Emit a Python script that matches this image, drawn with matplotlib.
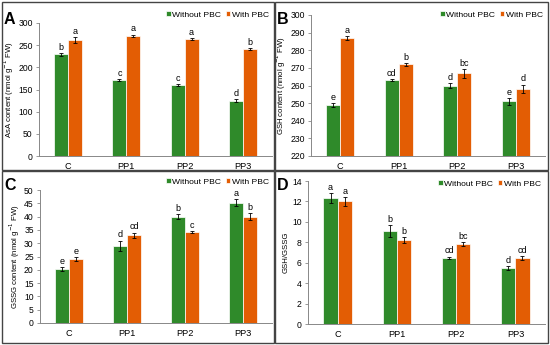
import matplotlib
matplotlib.use("Agg")
import matplotlib.pyplot as plt
from matplotlib.patches import Rectangle
import numpy as np

plt.rcParams['font.family'] = ['Liberation Sans', 'DejaVu Sans']

groups = ["C", "PP1", "PP2", "PP3"]

asa_wo = [229, 171, 161, 125]
asa_w = [262, 271, 264, 241]
asa_wo_err = [4, 2, 2, 3]
asa_w_err = [7, 3, 3, 3]
asa_wo_let = ["b", "c", "c", "d"]
asa_w_let = ["a", "a", "a", "b"]

gsh_wo = [249, 263, 260, 251]
gsh_w = [287, 272, 267, 258]
gsh_wo_err = [1, 0.7, 1.5, 2]
gsh_w_err = [1, 0.7, 2.5, 2.5]
gsh_wo_let = ["e", "cd", "d", "e"]
gsh_w_let = ["a", "b", "bc", "d"]

gssg_wo = [20.3, 29, 40, 45.3]
gssg_w = [24, 33, 34.2, 40]
gssg_wo_err = [0.7, 2, 0.8, 1.2]
gssg_w_err = [0.8, 1, 0.5, 1.3]
gssg_wo_let = ["e", "d", "b", "a"]
gssg_w_let = ["e", "cd", "c", "b"]

ratio_wo = [12.3, 9.1, 6.5, 5.45]
ratio_w = [12.0, 8.2, 7.8, 6.45]
ratio_wo_err = [0.5, 0.6, 0.1, 0.2]
ratio_w_err = [0.45, 0.3, 0.2, 0.2]
ratio_wo_let = ["a", "b", "cd", "d"]
ratio_w_let = ["a", "b", "bc", "cd"]

green = "#2f8a2a"
orange = "#e35d04"

W, H = 550, 345
fig = plt.figure(figsize=(5.5, 3.45), dpi=100)

def px(l, t, r, b):
    return [l / W, 1 - b / H, (r - l) / W, (b - t) / H]

# panel frames
for (l, t, r, b) in [(2, 2, 274, 170), (275, 2, 548, 170), (2, 171, 274, 343), (275, 171, 548, 343)]:
    fig.add_artist(Rectangle((l / W, 1 - b / H), (r - l) / W, (b - t) / H,
                             transform=fig.transFigure, fill=False, edgecolor="#444444", lw=1.0))

# tag, axes box, data..., ylim, step, ylabel, tag pos, legend anchor (pixels)
panels = [
    ("A", px(39, 23, 272, 156), asa_wo, asa_w, asa_wo_err, asa_w_err, asa_wo_let, asa_w_let,
     (0, 300), 50, "AsA content (nmol g$^{-1}$ FW)", (4, 12), (269, 15)),
    ("B", px(311, 15, 545, 156), gsh_wo, gsh_w, gsh_wo_err, gsh_w_err, gsh_wo_let, gsh_w_let,
     (220, 300), 10, "GSH content (nmol g$^{-1}$ FW)", (277, 12), (543, 15)),
    ("C", px(40, 190, 272, 323), gssg_wo, gssg_w, gssg_wo_err, gssg_w_err, gssg_wo_let, gssg_w_let,
     (0, 50), 5, "GSSG content (nmol g$^{-1}$ FW)", (4, 178), (269, 182)),
    ("D", px(308, 181, 545, 324), ratio_wo, ratio_w, ratio_wo_err, ratio_w_err, ratio_wo_let, ratio_w_let,
     (0, 14), 2, "GSH/GSSG", (277, 178), (541, 184)),
]

x = np.arange(len(groups))
bw = 0.24
ek = dict(ecolor="black", elinewidth=0.6, capsize=1.3, capthick=0.6)
for tag, rect, wo, w, woe, we, wol, wl, ylim, step, ylab, tpos, lpos in panels:
    ax = fig.add_axes(rect)
    ax.bar(x - bw / 2, wo, bw, color=green, edgecolor="white", lw=0.5, label="Without PBC",
           yerr=woe, error_kw=ek)
    ax.bar(x + bw / 2, w, bw, color=orange, edgecolor="white", lw=0.5, label="With PBC",
           yerr=we, error_kw=ek)
    off = (ylim[1] - ylim[0]) * 0.008
    for i in range(len(groups)):
        ax.text(x[i] - bw / 2, wo[i] + woe[i] + off, wol[i], ha="center", va="bottom", fontsize=6.5)
        ax.text(x[i] + bw / 2, w[i] + we[i] + off, wl[i], ha="center", va="bottom", fontsize=6.5)
    ax.set_xlim(-0.5, 3.5)
    ax.set_ylim(*ylim)
    ax.set_yticks(np.arange(ylim[0], ylim[1] + step / 2, step))
    ax.set_xticks(x)
    ax.set_xticklabels(groups)
    ax.tick_params(axis="x", length=0, labelsize=6.6, pad=4)
    ax.tick_params(axis="y", length=2.5, labelsize=6.2, color="#888888", width=0.6, pad=2)
    for s in ["top", "right"]:
        ax.spines[s].set_visible(False)
    for s in ["left", "bottom"]:
        ax.spines[s].set_color("#888888")
        ax.spines[s].set_linewidth(0.7)
    ax.set_ylabel(ylab, fontsize=5.6, labelpad=1.5)
    ax.legend(loc="center right", ncol=2, frameon=False, fontsize=6.1, handlelength=0.55,
              handleheight=0.55, handletextpad=0.2, columnspacing=0.5, borderaxespad=0.0,
              borderpad=0.0, bbox_to_anchor=(lpos[0] / W, 1 - lpos[1] / H),
              bbox_transform=fig.transFigure)
    fig.text(tpos[0] / W, 1 - tpos[1] / H, tag, fontsize=11.5, fontweight="bold",
             ha="left", va="top")

fig.savefig("out.png", dpi=100)
